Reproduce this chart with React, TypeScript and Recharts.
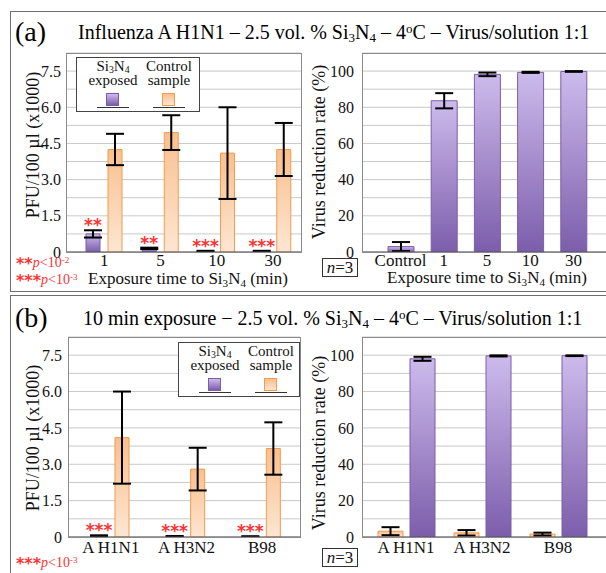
import React from 'react';
import { BarChart, Bar, XAxis, YAxis, CartesianGrid, ErrorBar, LabelList } from 'recharts';

// ---------- data ----------
const timeCats = ['1', '5', '10', '30'];
const exposedPFU = [0.75, 0.15, 0.03, 0.03];
const exposedPFUErr = [0.15, 0.03, 0.02, 0.02];
const controlPFU = [4.25, 4.95, 4.1, 4.25];
const controlPFUErr = [0.65, 0.72, 1.9, 1.1];
const exposedSig = ['**', '**', '***', '***'];

const reductionCats = ['Control', '1', '5', '10', '30'];
const reductionRate = [3, 83.6, 98.2, 99.3, 99.8];
const reductionErr = [2.5, 4.2, 1.0, 0.3, 0.2];

const strainCats = ['A H1N1', 'A H3N2', 'B98'];
const strainExposedPFU = [0.05, 0.03, 0.02];
const strainExposedErr = [0.02, 0.01, 0.01];
const strainControlPFU = [4.1, 2.8, 3.65];
const strainControlErr = [1.9, 0.88, 1.08];
const strainSig = ['***', '***', '***'];
const strainControlRate = [3.2, 2.3, 1.6];
const strainControlRateErr = [2.2, 1.5, 0.8];
const strainExposedRate = [98, 99.6, 99.7];
const strainExposedRateErr = [1.1, 0.3, 0.2];

const pfuTicks = [0, 0.75, 1.5, 2.25, 3, 3.75, 4.5, 5.25, 6, 6.75, 7.5, 8.25];
const pfuLabels = ['0', '', '1.5', '', '3.0', '', '4.5', '', '6.0', '', '7.5', ''];
const rateTicks = [0, 10, 20, 30, 40, 50, 60, 70, 80, 90, 100, 110];
const rateLabels = ['0', '', '20', '', '40', '', '60', '', '80', '', '100', ''];

// ---------- tables ----------
const dataA1 = timeCats.map((c, i) => ({ cat: c, exp: exposedPFU[i], expErr: exposedPFUErr[i], ctl: controlPFU[i], ctlErr: controlPFUErr[i], sig: exposedSig[i] }));
const dataA2 = reductionCats.map((c, i) => ({ cat: c, rate: reductionRate[i], err: reductionErr[i] }));
const dataB1 = strainCats.map((c, i) => ({ cat: c, exp: strainExposedPFU[i], expErr: strainExposedErr[i], ctl: strainControlPFU[i], ctlErr: strainControlErr[i], sig: strainSig[i] }));
const dataB2 = strainCats.map((c, i) => ({ cat: c, ctl: strainControlRate[i], ctlErr: strainControlRateErr[i], exp: strainExposedRate[i], expErr: strainExposedRateErr[i] }));

const SERIF = '"Liberation Serif", "Times New Roman", "DejaVu Serif", serif';
const STARFONT = '"DejaVu Sans", sans-serif';
const RED = '#fa3333';
const PURPLE_STROKE = '#7b5ea8';
const ORANGE_STROKE = '#f59a4e';
const GRID = '#c9c9c9';
const yTickStyle = { fontSize: 16, fill: '#111', fontFamily: SERIF };
const xTickStyle = { fontSize: 17, fill: '#111', fontFamily: SERIF };

const pfuFmt = (v: number) => pfuLabels[pfuTicks.indexOf(v)] ?? '';
const rateFmt = (v: number) => rateLabels[rateTicks.indexOf(v)] ?? '';

const Grads = () => (
  <defs>
    <linearGradient id="gPurple" x1="0" y1="0" x2="0" y2="1">
      <stop offset="0%" stopColor="#cdbbec" />
      <stop offset="100%" stopColor="#7c5dab" />
    </linearGradient>
    <linearGradient id="gOrange" x1="0" y1="0" x2="0" y2="1">
      <stop offset="0%" stopColor="#f9c08e" />
      <stop offset="100%" stopColor="#fde6d3" />
    </linearGradient>
  </defs>
);

const Sub = ({ children }: { children: React.ReactNode }) => (
  <span style={{ fontSize: '0.65em', position: 'relative', top: '0.25em', lineHeight: 0 }}>{children}</span>
);
const Sup = ({ children }: { children: React.ReactNode }) => (
  <span style={{ fontSize: '0.65em', position: 'relative', top: '-0.45em', lineHeight: 0 }}>{children}</span>
);

const abs = (left: number, top: number, extra: React.CSSProperties = {}): React.CSSProperties => ({ position: 'absolute', left, top, ...extra });

const Frame = ({ l, t, w, h, color = '#8a8a8a', width = 1 }: any) => (
  <div style={abs(l, t, { width: w, height: h, border: `${width}px solid ${color}`, boxSizing: 'border-box', pointerEvents: 'none' })} />
);

const VLabel = ({ cx, cy, children }: any) => (
  <div style={abs(cx, cy, { transform: 'translate(-50%, -50%) rotate(-90deg)', whiteSpace: 'nowrap', fontSize: 18, fontFamily: SERIF, color: '#111' })}>{children}</div>
);

const CLabel = ({ cx, cy, size = 17, children }: any) => (
  <div style={abs(cx, cy, { transform: 'translate(-50%, -50%)', whiteSpace: 'nowrap', fontSize: size, fontFamily: SERIF, color: '#111', lineHeight: 1 })}>{children}</div>
);

const Legend = ({ left, top, w }: any) => {
  const item = (cx: number, lines: React.ReactNode, fill: string, stroke: string) => (
    <>
      <div style={abs(cx - 27, 1, { width: 54, textAlign: 'center', lineHeight: '14px', fontSize: 15, whiteSpace: 'nowrap' })}>{lines}</div>
      <div style={abs(cx - 7, 35, { width: 13, height: 13, background: fill, border: `1px solid ${stroke}`, boxSizing: 'border-box' })} />
      <div style={abs(cx - 16, 49, { width: 32, height: 0, borderTop: '1px solid #333' })} />
    </>
  );
  return (
    <div style={abs(left, top, { width: w, height: 55, border: '1px solid #444', background: '#fff', boxSizing: 'border-box', fontFamily: SERIF, color: '#111' })}>
      {item(36, <>Si<Sub>3</Sub>N<Sub>4</Sub><br />exposed</>, 'linear-gradient(#cdbbec, #7c5dab)', PURPLE_STROKE)}
      {item(92, <>Control<br />sample</>, 'linear-gradient(#f9c08e, #fde6d3)', ORANGE_STROKE)}
    </div>
  );
};

const Stars = ({ s }: { s: string }) => (
  <span style={{ fontFamily: STARFONT, fontSize: 16, fontWeight: 'bold', lineHeight: 0, position: 'relative', top: '0.12em' }}>{s}</span>
);

const PNote = ({ left, cy, stars, exp }: any) => (
  <div style={abs(left, cy, { transform: 'translateY(-50%)', color: RED, fontFamily: SERIF, fontSize: 14, whiteSpace: 'nowrap', lineHeight: '14px' })}>
    <Stars s={stars} /><i>p</i>&lt;10<Sup>{exp}</Sup>
  </div>
);

const NBox = ({ top }: { top: number }) => (
  <div style={abs(322, top, { width: 36, height: 19, border: '1px solid #333', boxSizing: 'border-box', fontFamily: SERIF, fontSize: 17, lineHeight: '17px', textAlign: 'center', color: '#111' })}>
    <i>n</i>=3
  </div>
);

// significance stars placed just above the top of each bar's error bar
const makeStarLabel = (rows: { exp: number; expErr: number }[]) => (props: any) => {
  const { x, y, width, height, value, index } = props;
  const row = rows[index];
  const pxPerUnit = row && row.exp > 0 ? Math.abs(height) / row.exp : 0;
  const errPx = row ? row.expErr * pxPerUnit : 0;
  return (
    <text x={x + width / 2} y={y - errPx + 1} textAnchor="middle" fill={RED} fontSize={17} fontWeight="bold" fontFamily={STARFONT}>
      {value}
    </text>
  );
};

export default function App() {
  return (
    <div style={{ position: 'fixed', left: 0, top: 0, width: 606, height: 573, overflow: 'hidden', background: '#fff', fontFamily: SERIF }}>
      {/* Outer frames */}
      <Frame l={10} t={11} w={620} h={281} color="#6e6e6e" width={1.5} />
      <Frame l={10} t={295} w={620} h={300} color="#6e6e6e" width={1.5} />

      {/* Titles */}
      <div style={abs(15, 32, { transform: 'translateY(-50%)', fontSize: 28, lineHeight: 1 })}>(a)</div>
      <div style={abs(78, 32, { transform: 'translateY(-50%)', fontSize: 20, lineHeight: 1, whiteSpace: 'nowrap' })}>
        Influenza A H1N1 – 2.5 vol. % Si<Sub>3</Sub>N<Sub>4</Sub> – 4<Sup>o</Sup>C – Virus/solution 1:1
      </div>
      <div style={abs(15, 318, { transform: 'translateY(-50%)', fontSize: 28, lineHeight: 1 })}>(b)</div>
      <div style={abs(83, 318, { transform: 'translateY(-50%)', fontSize: 20, lineHeight: 1, whiteSpace: 'nowrap' })}>
        10 min exposure − 2.5 vol. % Si<Sub>3</Sub>N<Sub>4</Sub> – 4<Sup>o</Sup>C – Virus/solution 1:1
      </div>

      {/* (a) left chart */}
      <div style={abs(0, 40)}>
        <BarChart width={301} height={242} data={dataA1} margin={{ top: 13, right: 0, bottom: 0, left: 6 }} barSize={14} barGap={8}>
          <Grads />
          <CartesianGrid vertical={false} stroke={GRID} />
          <XAxis dataKey="cat" padding={{ left: 10, right: 0 }} tickLine={false} tickSize={0} tickMargin={2} height={30} axisLine={{ stroke: '#555' }} tick={xTickStyle} interval={0} />
          <YAxis domain={[0, 8.25]} ticks={pfuTicks} tickFormatter={pfuFmt} width={60} axisLine={false} tickLine={false} tickSize={0} tickMargin={5} tick={yTickStyle} interval={0} />
          <Bar dataKey="exp" fill="url(#gPurple)" stroke={PURPLE_STROKE} isAnimationActive={false}>
            <ErrorBar dataKey="expErr" width={9} strokeWidth={2} stroke="#000" />
            <LabelList dataKey="sig" content={makeStarLabel(dataA1)} />
          </Bar>
          <Bar dataKey="ctl" fill="url(#gOrange)" stroke={ORANGE_STROKE} isAnimationActive={false}>
            <ErrorBar dataKey="ctlErr" width={9} strokeWidth={2} stroke="#000" />
          </Bar>
        </BarChart>
      </div>
      <Frame l={66} t={53} w={236} h={200} />
      <Legend left={76} top={57} w={124} />
      <VLabel cx={33} cy={145}>PFU/100 µl (x1000)</VLabel>
      <CLabel cx={188} cy={278}>Exposure time to Si<Sub>3</Sub>N<Sub>4</Sub> (min)</CLabel>
      <PNote left={16} cy={263} stars="**" exp="-2" />
      <PNote left={16} cy={280} stars="***" exp="-3" />

      {/* (a) right chart */}
      <div style={abs(300, 40)}>
        <BarChart width={312} height={242} data={dataA2} margin={{ top: 13, right: 0, bottom: 0, left: 0 }} barSize={26}>
          <Grads />
          <CartesianGrid vertical={false} stroke={GRID} />
          <XAxis dataKey="cat" padding={{ left: 17, right: 17 }} tickLine={false} tickSize={0} tickMargin={2} height={30} axisLine={{ stroke: '#555' }} tick={xTickStyle} interval={0} />
          <YAxis domain={[0, 110]} ticks={rateTicks} tickFormatter={rateFmt} width={62} axisLine={false} tickLine={false} tickSize={0} tickMargin={8} tick={yTickStyle} interval={0} />
          <Bar dataKey="rate" fill="url(#gPurple)" stroke={PURPLE_STROKE} isAnimationActive={false}>
            <ErrorBar dataKey="err" width={9} strokeWidth={2} stroke="#000" />
          </Bar>
        </BarChart>
      </div>
      <Frame l={362} t={53} w={260} h={200} />
      <VLabel cx={319} cy={152}>Virus reduction rate (%)</VLabel>
      <CLabel cx={487} cy={277}>Exposure time to Si<Sub>3</Sub>N<Sub>4</Sub> (min)</CLabel>
      <NBox top={258} />

      {/* (b) left chart */}
      <div style={abs(0, 324)}>
        <BarChart width={300} height={243} data={dataB1} margin={{ top: 13, right: 0, bottom: 0, left: 8 }} barSize={14} barGap={9}>
          <Grads />
          <CartesianGrid vertical={false} stroke={GRID} />
          <XAxis dataKey="cat" padding={{ left: 5, right: 0 }} tickLine={false} tickSize={0} tickMargin={4} height={30} axisLine={{ stroke: '#555' }} tick={xTickStyle} interval={0} />
          <YAxis domain={[0, 8.25]} ticks={pfuTicks} tickFormatter={pfuFmt} width={60} axisLine={false} tickLine={false} tickSize={0} tickMargin={6} tick={yTickStyle} interval={0} />
          <Bar dataKey="exp" fill="url(#gPurple)" stroke={PURPLE_STROKE} isAnimationActive={false}>
            <ErrorBar dataKey="expErr" width={9} strokeWidth={2} stroke="#000" />
            <LabelList dataKey="sig" content={makeStarLabel(dataB1)} />
          </Bar>
          <Bar dataKey="ctl" fill="url(#gOrange)" stroke={ORANGE_STROKE} isAnimationActive={false}>
            <ErrorBar dataKey="ctlErr" width={9} strokeWidth={2} stroke="#000" />
          </Bar>
        </BarChart>
      </div>
      <Frame l={68} t={337} w={233} h={201} />
      <Legend left={178} top={342} w={122} />
      <VLabel cx={33} cy={438}>PFU/100 µl (x1000)</VLabel>
      <PNote left={16} cy={563} stars="***" exp="-3" />

      {/* (b) right chart */}
      <div style={abs(300, 324)}>
        <BarChart width={312} height={243} data={dataB2} margin={{ top: 13, right: 0, bottom: 0, left: 0 }} barSize={25} barGap={7}>
          <Grads />
          <CartesianGrid vertical={false} stroke={GRID} />
          <XAxis dataKey="cat" padding={{ left: 6, right: 16 }} tickLine={false} tickSize={0} tickMargin={4} height={30} axisLine={{ stroke: '#555' }} tick={xTickStyle} interval={0} />
          <YAxis domain={[0, 110]} ticks={rateTicks} tickFormatter={rateFmt} width={62} axisLine={false} tickLine={false} tickSize={0} tickMargin={8} tick={yTickStyle} interval={0} />
          <Bar dataKey="ctl" fill="url(#gOrange)" stroke={ORANGE_STROKE} isAnimationActive={false}>
            <ErrorBar dataKey="ctlErr" width={9} strokeWidth={2} stroke="#000" />
          </Bar>
          <Bar dataKey="exp" fill="url(#gPurple)" stroke={PURPLE_STROKE} isAnimationActive={false}>
            <ErrorBar dataKey="expErr" width={9} strokeWidth={2} stroke="#000" />
          </Bar>
        </BarChart>
      </div>
      <Frame l={362} t={337} w={260} h={201} />
      <VLabel cx={319} cy={443}>Virus reduction rate (%)</VLabel>
      <NBox top={548} />
    </div>
  );
}
